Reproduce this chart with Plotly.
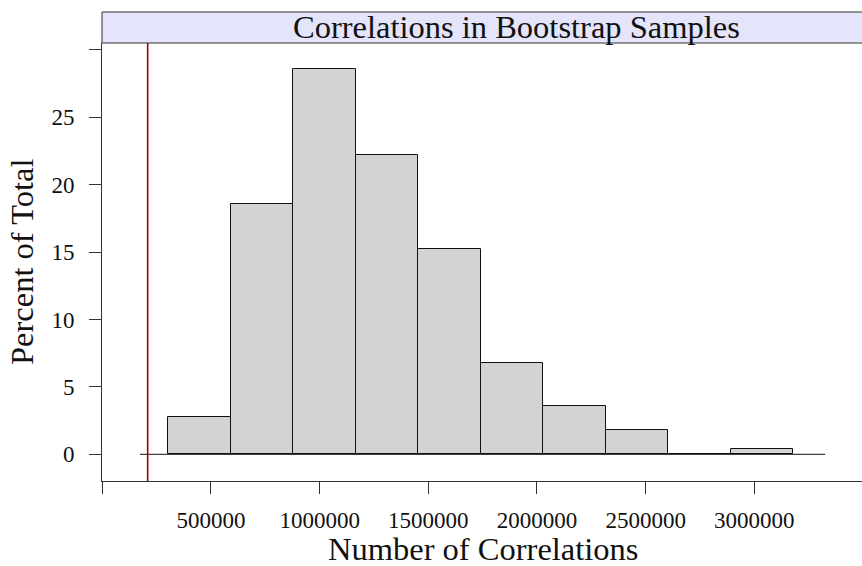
import plotly.graph_objects as go

# ---- data ----
bin_edges = [303500, 591000, 878500, 1166000, 1453500, 1741000,
             2028500, 2316000, 2603500, 2891000, 3178500]
percent_of_total = [2.8, 18.6, 28.6, 22.2, 15.2, 6.8, 3.6, 1.8, 0.0, 0.4]
observed_value = 208700          # red reference line
zero_line_extent = [173000, 3326000]
x_tick_vals = [0, 500000, 1000000, 1500000, 2000000, 2500000, 3000000]
x_tick_text = ["", "500000", "1000000", "1500000", "2000000", "2500000", "3000000"]
y_tick_vals = [0, 5, 10, 15, 20, 25, 30]
y_tick_text = ["0", "5", "10", "15", "20", "25", ""]

title_text = "Correlations in Bootstrap Samples"
x_title = "Number of Correlations"
y_title = "Percent of Total"

centers = [(a + b) / 2 for a, b in zip(bin_edges[:-1], bin_edges[1:])]
widths = [b - a for a, b in zip(bin_edges[:-1], bin_edges[1:])]

FONT = "Liberation Serif"
AX = "#333333"
TITLE_SIZE = 32.5

fig = go.Figure()
fig.add_trace(go.Bar(
    x=centers, y=percent_of_total, width=widths,
    marker=dict(color="#D3D3D3", line=dict(color="#111111", width=1)),
    showlegend=False, hoverinfo="skip",
))

W, H = 862, 566
ML, MR, MT, MB = 102, 0, 43, 85
plot_w = W - ML - MR
plot_h = H - MT - MB
strip_h = 31

fig.update_layout(
    width=W, height=H,
    margin=dict(l=ML, r=MR, t=MT, b=MB, pad=0),
    paper_bgcolor="white", plot_bgcolor="white",
    font=dict(family=FONT, color="#111111"),
    bargap=0,
    xaxis=dict(
        range=[-1500, 3495500], showgrid=False, zeroline=False,
        showline=True, linecolor=AX, linewidth=1, mirror=False,
        ticks="outside", ticklen=12, tickwidth=1, tickcolor=AX,
        tickvals=x_tick_vals, ticktext=x_tick_text,
        tickfont=dict(family=FONT, size=23, color="#111111"),
        ticklabelstandoff=6,
    ),
    yaxis=dict(
        range=[-1.98, 30.51], showgrid=False, zeroline=False,
        showline=True, linecolor=AX, linewidth=1, mirror=False,
        ticks="outside", ticklen=12, tickwidth=1, tickcolor=AX,
        tickvals=y_tick_vals, ticktext=y_tick_text,
        tickfont=dict(family=FONT, size=23, color="#111111"),
        ticklabelstandoff=10,
    ),
    shapes=[
        # strip
        dict(type="rect", xref="paper", yref="paper",
             x0=0, x1=1.01, y0=1, y1=1 + strip_h / plot_h,
             fillcolor="#E4E4FA", line=dict(color=AX, width=1), layer="above"),
        # zero line
        dict(type="line", xref="x", yref="y",
             x0=zero_line_extent[0], x1=zero_line_extent[1], y0=0, y1=0,
             line=dict(color="#111111", width=1), layer="above"),
        # observed value line
        dict(type="line", xref="x", yref="paper",
             x0=observed_value, x1=observed_value, y0=0, y1=1,
             line=dict(color="#A00000", width=1.6), layer="above"),
    ],
    annotations=[
        dict(text=title_text, xref="paper", yref="paper", x=(516 - ML) / plot_w,
             y=1 + (strip_h / 2 + 0.5) / plot_h, xanchor="center", yanchor="middle",
             showarrow=False, font=dict(family=FONT, size=TITLE_SIZE, color="#111111")),
        dict(text=x_title, xref="paper", yref="paper", x=(483 - ML) / plot_w,
             y=-(549 - (H - MB)) / plot_h, xanchor="center", yanchor="middle",
             showarrow=False, font=dict(family=FONT, size=TITLE_SIZE, color="#111111")),
        dict(text=y_title, xref="paper", yref="paper",
             x=-(ML - 22) / plot_w, y=0.5, xanchor="center", yanchor="middle",
             textangle=-90, showarrow=False,
             font=dict(family=FONT, size=TITLE_SIZE, color="#111111")),
    ],
)

fig.write_html("out.html")
